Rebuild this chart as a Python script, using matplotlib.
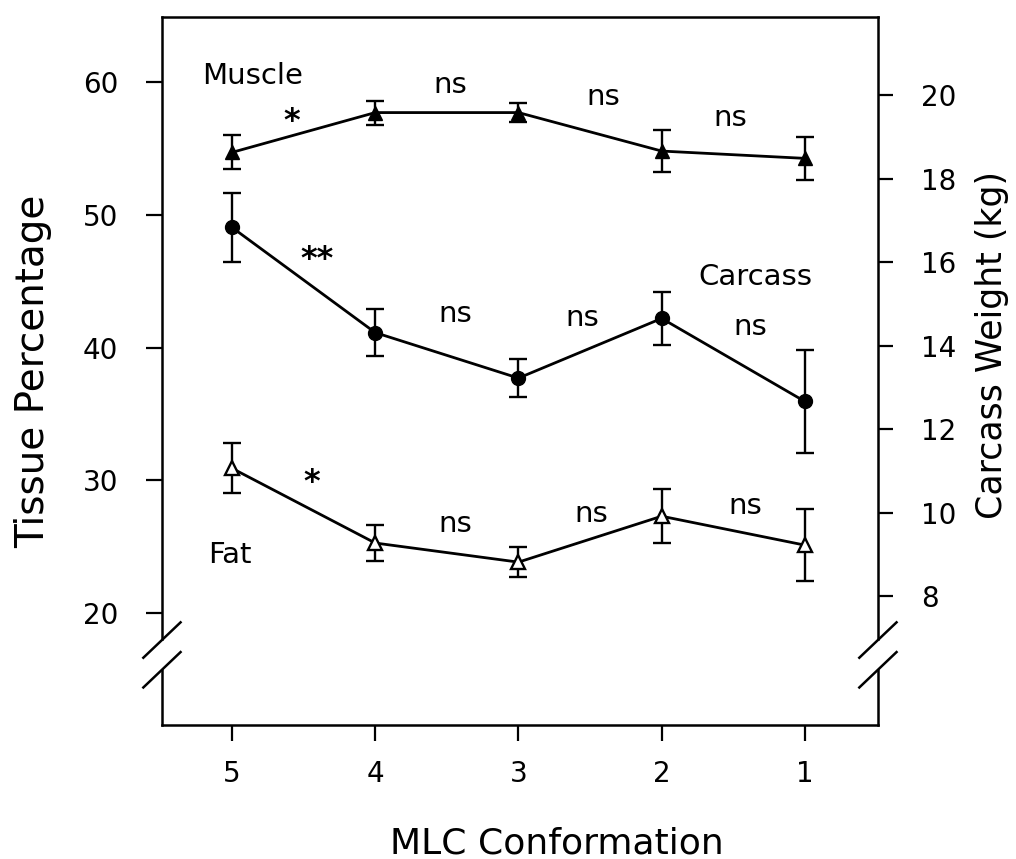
import matplotlib
matplotlib.use('Agg')
import matplotlib.pyplot as plt

# MLC conformation scores (plotted from 5 down to 1)
conf = [5, 4, 3, 2, 1]

# tissue percentages (left axis)
muscle = [54.7, 57.7, 57.7, 54.8, 54.25]
muscle_se = [1.28, 0.9, 0.72, 1.55, 1.62]
fat = [30.9, 25.27, 23.83, 27.29, 25.11]
fat_se = [1.88, 1.35, 1.13, 2.03, 2.7]

# carcass weight in kg (right axis)
carcass = [16.83, 14.31, 13.22, 14.65, 12.66]
carcass_se = [0.83, 0.56, 0.455, 0.635, 1.23]

# significance labels between neighbouring scores
muscle_sig = [('*', 4.58, 57.3), ('ns', 3.478, 59.77), ('ns', 2.41, 58.87), ('ns', 1.524, 57.3)]
carcass_sig = [('**', 4.407, 46.9), ('ns', 3.443, 42.56), ('ns', 2.557, 42.26), ('ns', 1.384, 41.58)]
fat_sig = [('*', 4.44, 30.1), ('ns', 3.443, 26.69), ('ns', 2.494, 27.44), ('ns', 1.419, 28.05)]

fig = plt.figure(figsize=(10.16, 8.59), dpi=100)
ax = fig.add_axes([0.1594, 0.1560, 0.7047, 0.8242])
ax2 = ax.twinx()

err_kw = dict(color='black', lw=2.0, elinewidth=1.7, capsize=6.5, capthick=1.7)
ax.errorbar(conf, muscle, yerr=muscle_se, marker='^', ms=10, mfc='black', mec='black', **err_kw)
ax.errorbar(conf, fat, yerr=fat_se, marker='^', ms=10, mfc='white', mec='black', mew=1.7, **err_kw)
ax2.errorbar(conf, carcass, yerr=carcass_se, marker='o', ms=10, mfc='black', mec='black', **err_kw)

ax.set_xlim(5.489, 0.49)
ax.set_ylim(11.56, 64.9)
ax2.set_ylim(4.91, 21.87)

ax.set_xticks(conf)
ax.set_yticks([20, 30, 40, 50, 60])
ax2.set_yticks([8, 10, 12, 14, 16, 18, 20])

ax.tick_params(axis='y', direction='out', length=11.5, width=1.6, labelsize=20, pad=20)
ax.tick_params(axis='x', direction='out', length=11.5, width=1.6, labelsize=20, pad=14)
ax2.tick_params(axis='y', direction='out', length=11, width=1.6, labelsize=20, pad=20)

ax.set_xlabel('MLC Conformation', fontsize=26)
ax.set_ylabel('Tissue Percentage', fontsize=28)
ax2.set_ylabel('Carcass Weight (kg)', fontsize=25)
ax.xaxis.set_label_coords(0.552, -0.143)
ax.yaxis.set_label_coords(-0.154, 0.5)
ax2.yaxis.set_label_coords(1.135, 0.537)

# spines drawn by hand so the side axes can carry break marks
for a in (ax, ax2):
    for s in a.spines.values():
        s.set_visible(False)
lk = dict(color='black', lw=1.8, transform=ax.transAxes, clip_on=False)
ax.plot([0, 1], [1, 1], **lk)
ax.plot([0, 1], [0, 0], **lk)
for xs in (0, 1):
    ax.plot([xs, xs], [1, 0.122], **lk)
    ax.plot([xs, xs], [0.078, 0], **lk)
    for yc in (0.12, 0.078):
        ax.plot([xs - 0.026, xs + 0.026], [yc - 0.025, yc + 0.025], **lk)

txt = dict(fontsize=21, ha='center', va='center')
ax.text(4.853, 60.45, 'Muscle', **txt)
ax.text(1.349, 45.34, 'Carcass', **txt)
ax.text(5.014, 24.36, 'Fat', **txt)
for lab, x, y in muscle_sig + carcass_sig + fat_sig:
    if '*' in lab:
        ax.text(x, y - 0.3, lab, fontsize=23, fontweight='bold', ha='center', va='center')
    else:
        ax.text(x, y, lab, **txt)

fig.savefig('out.png', dpi=100)
